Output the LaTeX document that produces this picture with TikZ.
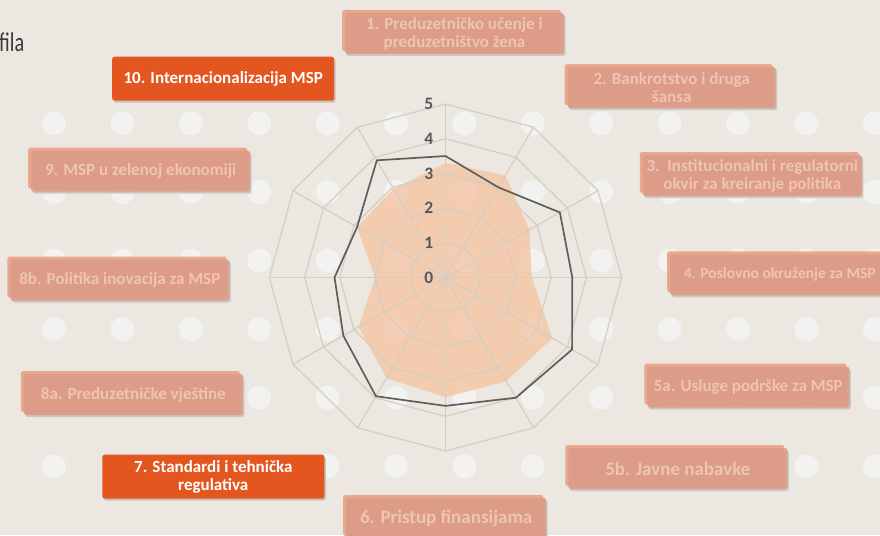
\documentclass[tikz,border=0pt]{standalone}
\usepackage{fontspec}
\setmainfont{Carlito}
\usetikzlibrary{shadows}

\definecolor{bgbeige}{HTML}{ECE7E0}
\definecolor{dotwhite}{HTML}{F2F2F0}
\definecolor{gridbeige}{HTML}{D4CDC2}
\definecolor{areapeach}{HTML}{F6C3A0}
\definecolor{lineshade}{HTML}{5E5E5E}
\definecolor{boxfade}{HTML}{DC9C87}
\definecolor{boxedge}{HTML}{E8A284}
\definecolor{boxtext}{HTML}{EFC4B3}
\definecolor{boxhot}{HTML}{E4561F}
\definecolor{boxshade}{HTML}{C9C3BB}
\definecolor{numgray}{HTML}{585858}
\definecolor{titlegray}{HTML}{3A3A3A}

\newcommand{\radunit}{34.7}

\tikzset{
  topic/.style={rounded corners=2.5pt, minimum width=219pt, minimum height=41pt, inner sep=0pt, align=center,
    font=\bfseries\fontsize{17}{18}\selectfont,
    general shadow={fill=boxshade, shadow xshift=1.5pt, shadow yshift=-2pt}},
  faded/.style={topic, fill=boxfade, fill opacity=.9, text opacity=1, text=boxtext,
    general shadow={fill=boxedge, shadow xshift=-3pt, shadow yshift=3pt}},
  hot/.style={topic, fill=boxhot, text=white, minimum width=222pt, minimum height=44pt},
  gridline/.style={gridbeige, line width=1.2pt},
  radnum/.style={anchor=east, inner sep=1pt, text=numgray, font=\bfseries\fontsize{17.5}{17.5}\selectfont},
}

\begin{document}
\begin{tikzpicture}[x=1pt,y=-1pt]
  \useasboundingbox (0,0) rectangle (880,535);
  \fill[bgbeige] (0,0) rectangle (880,535);
  % tackice u pozadini
  \foreach \i in {0,...,12}
    \foreach \j in {0,...,5}
      \fill[dotwhite] ({54+68.4*\i},{123.3+68.6*\j}) circle (12pt);

  \node[anchor=base west, inner sep=0pt, text=titlegray, font=\fontsize{27}{27}\selectfont] (title) at (-1,51.5) {\scalebox{.75}[1]{fila}};

  % radar
  \begin{scope}[shift={(445.5,277.5)}, x=1.015pt, y=1pt]
    \foreach \v [count=\k from 0] in {3.3,3.4,2.75,2.45,3.5,3.45,3.45,3.35,2.85,2.0,2.9,2.95}
      \coordinate (p\k) at ({90-30*\k}:{\v*\radunit});
    \foreach \v [count=\k from 0] in {3.5,3.0,3.75,3.6,4.15,4.0,3.7,3.95,3.35,3.15,2.9,3.9}
      \coordinate (g\k) at ({90-30*\k}:{\v*\radunit});
    \fill[areapeach, fill opacity=.75] (p0) -- (p1) -- (p2) -- (p3) -- (p4) -- (p5) -- (p6) -- (p7) -- (p8) -- (p9) -- (p10) -- (p11) -- cycle;
    \foreach \lvl in {1,...,5}
      \draw[gridline] (90:{\lvl*\radunit}) \foreach \k in {1,...,11} { -- ({90-30*\k}:{\lvl*\radunit}) } -- cycle;
    \foreach \k in {0,...,11}
      \draw[gridline] (0,0) -- ({90-30*\k}:{5*\radunit});
    \draw[lineshade, line width=1.7pt, line join=round] (g0) -- (g1) -- (g2) -- (g3) -- (g4) -- (g5) -- (g6) -- (g7) -- (g8) -- (g9) -- (g10) -- (g11) -- cycle;
    \foreach \k in {0,...,5}
      \node[radnum] (n\k) at (-11,{\k*\radunit}) {\k};
  \end{scope}

  % oblasti
  \node[faded] (t1) at (454.5,33.5) {1. Preduzetničko učenje i\\preduzetništvo žena};
  \node[faded, minimum width=208pt] (t2) at (671.7,87.7) {2. Bankrotstvo i druga\\šansa};
  \node[faded] (t3) at (752.3,175.5) {3.\ \ Institucionalni i regulatorni\\okvir za kreiranje politika};
  \node[faded, font=\bfseries\fontsize{15.5}{17}\selectfont] (t4) at (779.7,274.8) {4. Poslovno okruženje za MSP};
  \node[faded, minimum width=202pt] (t5a) at (748.3,387) {5a. Usluge podrške za MSP};
  \node[faded, font=\bfseries\fontsize{19}{21}\selectfont] (t5b) at (677.8,468.5) {5b. Javne nabavke};
  \node[faded, minimum width=200pt, font=\bfseries\fontsize{19}{21}\selectfont] (t6) at (446.2,518.5) {6. Pristup finansijama};
  \node[hot] (t7) at (213.3,476.7) {7. Standardi i tehnička\\regulativa};
  \node[faded] (t8a) at (133.4,394.5) {8a. Preduzetničke vještine};
  \node[faded] (t8b) at (119.8,280) {8b. Politika inovacija za MSP};
  \node[faded] (t9) at (140.7,171.2) {9. MSP u zelenoj ekonomiji};
  \node[hot] (t10) at (223.2,78.7) {10. Internacionalizacija MSP};
\end{tikzpicture}
\end{document}
